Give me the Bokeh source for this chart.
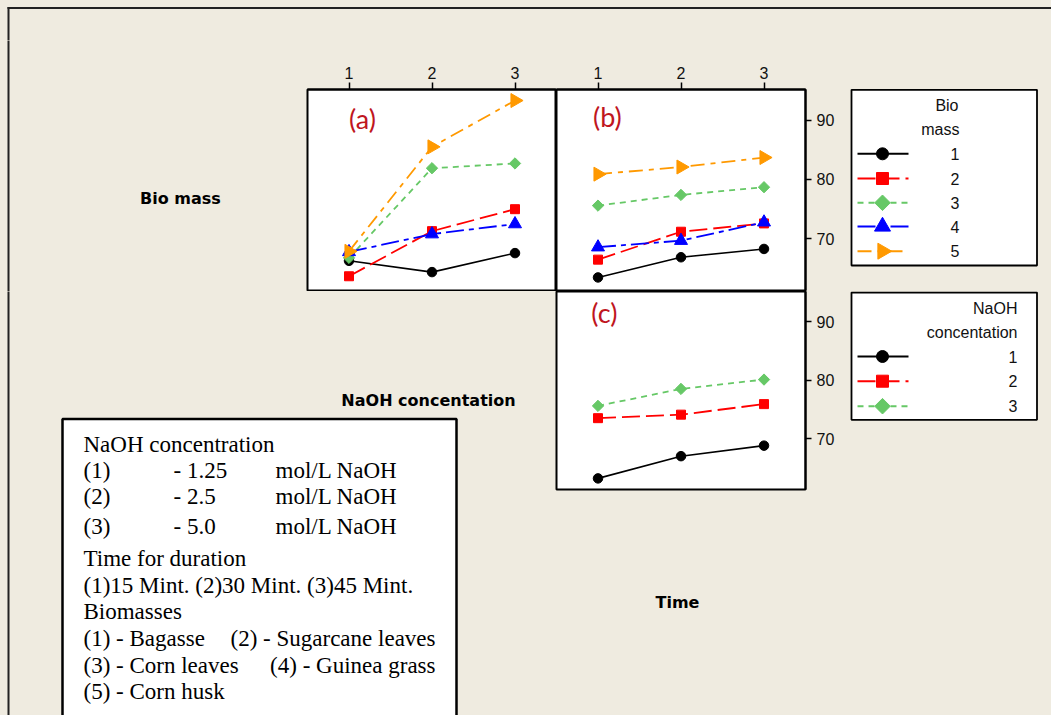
import numpy as np
from bokeh.plotting import figure
from bokeh.models import Range1d, LinearAxis, FixedTicker
from bokeh.layouts import row, column
from bokeh.core.properties import value
from bokeh.embed import file_html
from bokeh.resources import INLINE

# ---------------- data ----------------
levels = [1, 2, 3]                      # factor levels on the x axes
x_ticks = [1, 2, 3]
y_ticks = [70, 80, 90]
biomass_ids = ["1", "2", "3", "4", "5"]
naoh_ids = ["1", "2", "3"]

# (a) response vs NaOH concentration, one line per biomass
a_bm1 = [66.3, 64.4, 67.6]
a_bm2 = [63.7, 71.3, 75.0]
a_bm3 = [66.8, 81.9, 82.7]
a_bm4 = [67.8, 70.8, 72.5]
a_bm5 = [67.9, 85.5, 93.3]

# (b) response vs time, one line per biomass
b_bm1 = [63.5, 66.9, 68.3]
b_bm2 = [66.5, 71.2, 72.6]
b_bm3 = [75.6, 77.4, 78.7]
b_bm4 = [68.6, 69.7, 72.8]
b_bm5 = [80.9, 82.1, 83.7]

# (c) response vs time, one line per NaOH concentration
c_n1 = [63.2, 67.0, 68.8]
c_n2 = [73.5, 74.1, 75.9]
c_n3 = [75.6, 78.5, 80.1]

panel_a = [a_bm1, a_bm2, a_bm3, a_bm4, a_bm5]
panel_b = [b_bm1, b_bm2, b_bm3, b_bm4, b_bm5]
panel_c = [c_n1, c_n2, c_n3]

# note box: left-aligned pieces (column positions) and right-justified tails
note_rows = [
    ["NaOH concentration"],
    ["(1)", "- 1.25", "mol/L NaOH"],
    ["(2)", "- 2.5", "mol/L NaOH"],
    ["(3)", "- 5.0", "mol/L NaOH"],
    ["Time for duration"],
    ["(1)15 Mint. (2)30 Mint. (3)45 Mint."],
    ["Biomasses"],
    ["(1) - Bagasse"],
    ["(3) - Corn leaves"],
    ["(5) - Corn husk"],
]
note_tails = ["", "", "", "", "", "", "", "(2) - Sugarcane leaves", "(4) - Guinea grass", ""]

# ---------------- styles ----------------
BG = "#EFEBE0"
colors = ["#000000", "#FF0000", "#66C866", "#0000FF", "#FF9900"]
markers = ["circle", "square", "square", "triangle", "triangle"]
angles = [0.0, 0.0, np.pi / 4, 0.0, -np.pi / 2]
sizes = [9.5, 9, 8, 13, 14]
leg_sizes = [12, 12, 11, 16, 16]
dashes = ["solid", "18 6", "6 5", "18 5 5 5", "14 6 5 6"]
lwidths = [1.6, 1.8, 1.8, 1.8, 1.8]

TICK_FONT = "Liberation Sans"
Y_RANGE = (61.3, 95.16)
X_RANGE = (0.5, 3.5)
BGSTYLE = {"background-color": BG}


def style_axis(ax, ticks):
    ax.ticker = FixedTicker(ticks=ticks)
    ax.major_label_text_font = TICK_FONT
    ax.major_label_text_font_size = "16px"
    ax.major_label_text_color = "#111111"
    ax.major_tick_out = 7
    ax.major_tick_in = 0
    ax.minor_tick_out = 0
    ax.minor_tick_in = 0
    ax.major_tick_line_width = 1.5
    ax.major_tick_line_color = "black"
    ax.axis_line_color = "black"
    ax.axis_line_width = 2
    ax.major_label_standoff = 4


def panel(width, height, left, right, top, bottom):
    p = figure(width=width, height=height, output_backend="svg", toolbar_location=None,
               x_range=Range1d(*X_RANGE), y_range=Range1d(*Y_RANGE),
               x_axis_type=None, y_axis_type=None,
               min_border_left=left, min_border_right=right,
               min_border_top=top, min_border_bottom=bottom,
               background_fill_color="white", border_fill_color=BG,
               outline_line_color="black", outline_line_width=2, styles=BGSTYLE)
    return p


def draw_series(p, ys, i):
    p.line(levels, ys, line_color=colors[i], line_dash=dashes[i], line_width=lwidths[i])
    p.scatter(levels, ys, marker=markers[i], size=sizes[i], angle=angles[i],
              fill_color=colors[i], line_color=colors[i])


def panel_label(p, x, y, txt):
    p.text(x=[x], y=[y], text=[txt], text_font=value("Lato"), text_font_size=value("27px"),
           text_color="#C0161E", text_align="left", text_baseline="middle")


def deco(x0, y0, w, h):
    p = figure(width=w, height=h, output_backend="svg", toolbar_location=None,
               x_range=Range1d(x0, x0 + w), y_range=Range1d(y0 + h, y0),
               x_axis_type=None, y_axis_type=None, min_border=0,
               outline_line_color=None, background_fill_color=BG, border_fill_color=BG,
               styles=BGSTYLE)
    return p


def bold_label(p, x, y, txt):
    p.text(x=[x], y=[y], text=[txt], text_font=value("DejaVu Sans"), text_font_size=value("16px"),
           text_font_style="bold", text_color="black", text_align="center", text_baseline="middle")


# ---------------- top strip with outer frame line ----------------
top = deco(0, 0, 1051, 40)
top.segment(x0=[7, 8], y0=[7.5, 6.5], x1=[1051, 8], y1=[7.5, 45], line_color="#222222", line_width=2)

# ---------------- row 1 ----------------
left1 = deco(0, 40, 305, 251)
left1.segment(x0=[8], y0=[35], x1=[8], y1=[296], line_color="#222222", line_width=2)
bold_label(left1, 180, 198, "Bio mass")

pa = panel(251, 251, 2, 0, 49, 1)
ax = LinearAxis()
style_axis(ax, x_ticks)
pa.add_layout(ax, "above")
for i, ys in enumerate(panel_a):
    draw_series(pa, ys, i)
panel_label(pa, 1.0, 90.3, "(a)")

pb = panel(293, 251, 0, 44, 49, 1)
ax = LinearAxis()
style_axis(ax, x_ticks)
pb.add_layout(ax, "above")
ay = LinearAxis()
style_axis(ay, y_ticks)
ay.major_tick_out = 6
ay.major_label_standoff = 5
pb.add_layout(ay, "right")
for i, ys in enumerate(panel_b):
    draw_series(pb, ys, i)
panel_label(pb, 0.94, 90.55, "(b)")

leg1 = deco(849, 40, 202, 251)
leg1.quad(left=[851], right=[1036.5], top=[89.3], bottom=[265], fill_color="white",
          line_color="black", line_width=1.8)
leg1.text(x=[958, 959], y=[105, 129], text=["Bio", "mass"], text_font=value(TICK_FONT),
          text_font_size=value("16px"), text_align="right", text_baseline="middle", text_color="#111111")
rows1 = [153.3, 178.0, 202.3, 226.0, 250.7]
for i, ry in enumerate(rows1):
    leg1.line([857, 908], [ry, ry], line_color=colors[i], line_dash=dashes[i], line_width=2)
    leg1.scatter([882], [ry], marker=markers[i], size=leg_sizes[i], angle=angles[i],
                 fill_color=colors[i], line_color=colors[i])
leg1.text(x=[959] * 5, y=rows1, text=biomass_ids, text_font=value(TICK_FONT),
          text_font_size=value("16px"), text_align="right", text_baseline="middle", text_color="#111111")

# ---------------- row 2 ----------------
left2 = deco(0, 291, 554, 424)
left2.segment(x0=[8], y0=[286], x1=[8], y1=[720], line_color="#222222", line_width=2)
bold_label(left2, 428, 400, "NaOH concentation")
left2.quad(left=[62], right=[456], top=[418.5], bottom=[730], fill_color="white",
           line_color="black", line_width=2.5)
row_y = [444, 470, 496, 526, 558, 585, 611, 638, 665, 691]
col_x = [83, 173, 275]
for ry, parts, tail in zip(row_y, note_rows, note_tails):
    for cx, t in zip(col_x, parts):
        left2.text(x=[cx], y=[ry], text=[t], text_font=value("Liberation Serif"),
                   text_font_size=value("23px"), text_align="left", text_baseline="middle",
                   text_color="black")
    if tail:
        left2.text(x=[435], y=[ry], text=[tail], text_font=value("Liberation Serif"),
                   text_font_size=value("23px"), text_align="right", text_baseline="middle",
                   text_color="black")

pc = panel(295, 200, 2, 44, 0, 2)
ay = LinearAxis()
style_axis(ay, y_ticks)
ay.major_tick_out = 6
ay.major_label_standoff = 5
pc.add_layout(ay, "right")
for i, ys in enumerate(panel_c):
    draw_series(pc, ys, i)
panel_label(pc, 0.92, 91.5, "(c)")

time_box = deco(554, 491, 295, 224)
bold_label(time_box, 677, 602, "Time")

leg2 = deco(849, 291, 202, 424)
leg2.quad(left=[851], right=[1036.5], top=[292], bottom=[419.3], fill_color="white",
          line_color="black", line_width=1.8)
leg2.text(x=[1017, 1017], y=[308, 331.7], text=["NaOH", "concentation"], text_font=value(TICK_FONT),
          text_font_size=value("16px"), text_align="right", text_baseline="middle", text_color="#111111")
rows2 = [356, 380.7, 405.7]
for i, ry in enumerate(rows2):
    leg2.line([857, 908], [ry, ry], line_color=colors[i], line_dash=dashes[i], line_width=2)
    leg2.scatter([882], [ry], marker=markers[i], size=leg_sizes[i], angle=angles[i],
                 fill_color=colors[i], line_color=colors[i])
leg2.text(x=[1017] * 3, y=rows2, text=naoh_ids, text_font=value(TICK_FONT),
          text_font_size=value("16px"), text_align="right", text_baseline="middle", text_color="#111111")

layout = column(
    top,
    row(left1, row(pa, pb, styles=BGSTYLE), leg1, styles=BGSTYLE),
    row(left2, column(pc, column(time_box, styles=BGSTYLE), styles=BGSTYLE), leg2, styles=BGSTYLE),
    styles=BGSTYLE,
)

open("out.html", "w").write(file_html(layout, INLINE))
